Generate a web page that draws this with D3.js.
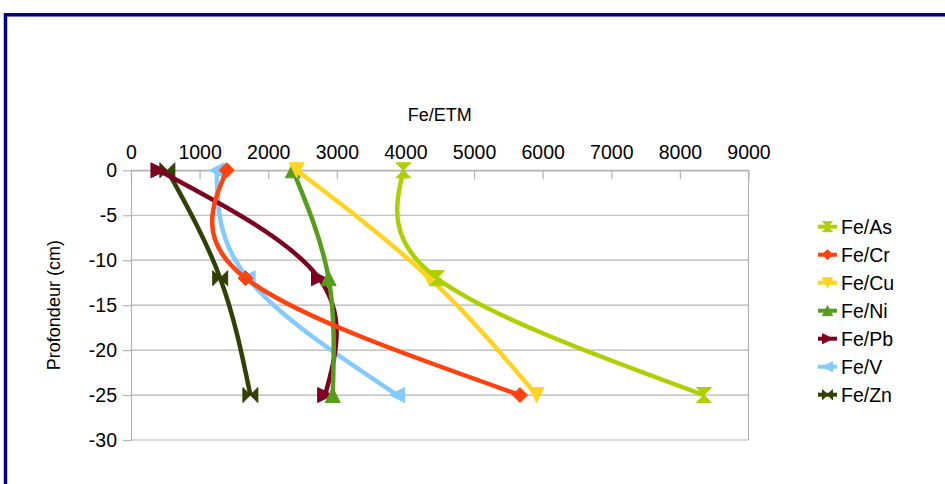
<!DOCTYPE html>
<html>
<head>
<meta charset="utf-8">
<script src="https://cdn.jsdelivr.net/npm/d3@7"></script>
<style>
  html, body { margin: 0; padding: 0; background: #fff; }
  svg { display: block; font-family: "Liberation Sans", Arial, sans-serif; }
</style>
</head>
<body>
<svg id="chart" width="945" height="484"></svg>
<script>
// Depths (cm) at which each ratio was measured
const depths = [0, -12, -25];

// Series names, colours and ratio values (one value per depth)
const seriesNames = ["Fe/As", "Fe/Cr", "Fe/Cu", "Fe/Ni", "Fe/Pb", "Fe/V", "Fe/Zn"];
const seriesColors = ["#aecf00", "#ff420e", "#ffd320", "#579d1c", "#7e0021", "#83caff", "#314004"];
const seriesSymbols = ["sandglass", "diamond", "down", "up", "right", "left", "bowtie"];

const feAs = [3970, 4460, 8350];
const feCr = [1395, 1670, 5670];
const feCu = [2415, 4350, 5910];
const feNi = [2360, 2880, 2940];
const fePb = [400, 2740, 2830];
const feV  = [1250, 1700, 3880];
const feZn = [530, 1300, 1740];
const seriesValues = [feAs, feCr, feCu, feNi, fePb, feV, feZn];

// Axis ticks
const xTicks = [0, 1000, 2000, 3000, 4000, 5000, 6000, 7000, 8000, 9000];
const yTicks = [0, -5, -10, -15, -20, -25, -30];

const svg = d3.select("#chart");

// Outer frame
svg.append("rect")
  .attr("x", 5.5).attr("y", 14.8)
  .attr("width", 1000).attr("height", 600)
  .attr("fill", "none")
  .attr("stroke", "#000080")
  .attr("stroke-width", 3.5);

const plot = { left: 131, right: 748.5, top: 170.3, bottom: 440 };

const x = d3.scaleLinear().domain([0, 9000]).range([plot.left, plot.right]);
const y = d3.scaleLinear().domain([0, -30]).range([plot.top, plot.bottom]);

const gridColor = "#b3b3b3";
const plainNumber = d => String(d);

// Horizontal grid lines
svg.append("g").selectAll("line")
  .data(yTicks)
  .join("line")
  .attr("x1", plot.left).attr("x2", plot.right)
  .attr("y1", d => y(d)).attr("y2", d => y(d))
  .attr("stroke", gridColor).attr("stroke-width", 1.2);

// Right border of the plot
svg.append("line")
  .attr("x1", plot.right).attr("x2", plot.right)
  .attr("y1", plot.top).attr("y2", plot.bottom)
  .attr("stroke", gridColor).attr("stroke-width", 1.2);

// Top (x) axis: ticks pointing into the plot
const xAxis = d3.axisTop(x).tickValues(xTicks).tickFormat(plainNumber)
  .tickSizeInner(-9).tickSizeOuter(0).tickPadding(0);
const gx = svg.append("g").attr("transform", `translate(0,${plot.top})`).call(xAxis);
gx.select(".domain").attr("stroke", gridColor).attr("stroke-width", 1.2);
gx.selectAll(".tick line").attr("stroke", gridColor).attr("stroke-width", 1.2);
gx.selectAll(".tick text")
  .attr("y", -11)
  .attr("fill", "#000")
  .style("font-size", "19.5px")
  .style("font-family", "'Liberation Sans', Arial, sans-serif");

// Left (y) axis
const yAxis = d3.axisLeft(y).tickValues(yTicks).tickFormat(plainNumber)
  .tickSizeInner(8).tickSizeOuter(0).tickPadding(6);
const gy = svg.append("g").attr("transform", `translate(${plot.left},0)`).call(yAxis);
gy.select(".domain").attr("stroke", gridColor).attr("stroke-width", 1.2);
gy.selectAll(".tick line").attr("stroke", gridColor).attr("stroke-width", 1.2);
gy.selectAll(".tick text")
  .attr("fill", "#000")
  .style("font-size", "19.5px")
  .style("font-family", "'Liberation Sans', Arial, sans-serif");

// Axis titles
svg.append("text")
  .attr("x", (plot.left + plot.right) / 2).attr("y", 121)
  .attr("text-anchor", "middle")
  .style("font-size", "18px")
  .text("Fe/ETM");

svg.append("text")
  .attr("transform", `translate(60,${(plot.top + plot.bottom) / 2}) rotate(-90)`)
  .attr("text-anchor", "middle")
  .style("font-size", "18px")
  .text("Profondeur (cm)");

// Marker shapes, centred on 0,0 with half-size s
function symbolPath(kind, s) {
  switch (kind) {
    case "sandglass": return `M${-s},${-s}H${s}L${-s},${s}H${s}Z`;
    case "diamond":   return `M0,${-s}L${s},0L0,${s}L${-s},0Z`;
    case "down":      return `M${-s},${-s}H${s}L0,${s}Z`;
    case "up":        return `M${-s},${s}H${s}L0,${-s}Z`;
    case "right":     return `M${-s},${-s}L${s},0L${-s},${s}Z`;
    case "left":      return `M${s},${-s}L${-s},0L${s},${s}Z`;
    case "bowtie":    return `M${-s},${-s}L${s},${s}V${-s}L${-s},${s}Z`;
  }
  return "";
}

const line = d3.line()
  .x(d => x(d.v))
  .y(d => y(d.depth))
  .curve(d3.curveNatural);

// Series drawn last-to-first so the first series sits on top
const order = d3.range(seriesNames.length).reverse();
const seriesG = svg.append("g");
order.forEach(i => {
  const pts = depths.map((depth, j) => ({ depth, v: seriesValues[i][j] }));
  const g = seriesG.append("g");
  g.append("path")
    .datum(pts)
    .attr("d", line)
    .attr("fill", "none")
    .attr("stroke", seriesColors[i])
    .attr("stroke-width", 4.5)
    .attr("stroke-linejoin", "round");
  g.selectAll("path.mk")
    .data(pts)
    .join("path")
    .attr("class", "mk")
    .attr("transform", d => `translate(${x(d.v)},${y(d.depth)})`)
    .attr("d", symbolPath(seriesSymbols[i], 7.5))
    .attr("fill", seriesColors[i])
    .attr("stroke", seriesColors[i])
    .attr("stroke-width", 1);
});

// Legend
const legend = svg.append("g");
seriesNames.forEach((name, i) => {
  const cy = 226.7 + i * 28;
  const g = legend.append("g");
  g.append("line")
    .attr("x1", 818).attr("x2", 837)
    .attr("y1", cy).attr("y2", cy)
    .attr("stroke", seriesColors[i]).attr("stroke-width", 4);
  g.append("path")
    .attr("transform", `translate(827.5,${cy})`)
    .attr("d", symbolPath(seriesSymbols[i], 5))
    .attr("fill", seriesColors[i])
    .attr("stroke", seriesColors[i])
    .attr("stroke-width", 1);
  g.append("text")
    .attr("x", 841).attr("y", cy + 7)
    .style("font-size", "19.5px")
    .text(name);
});
</script>
</body>
</html>
